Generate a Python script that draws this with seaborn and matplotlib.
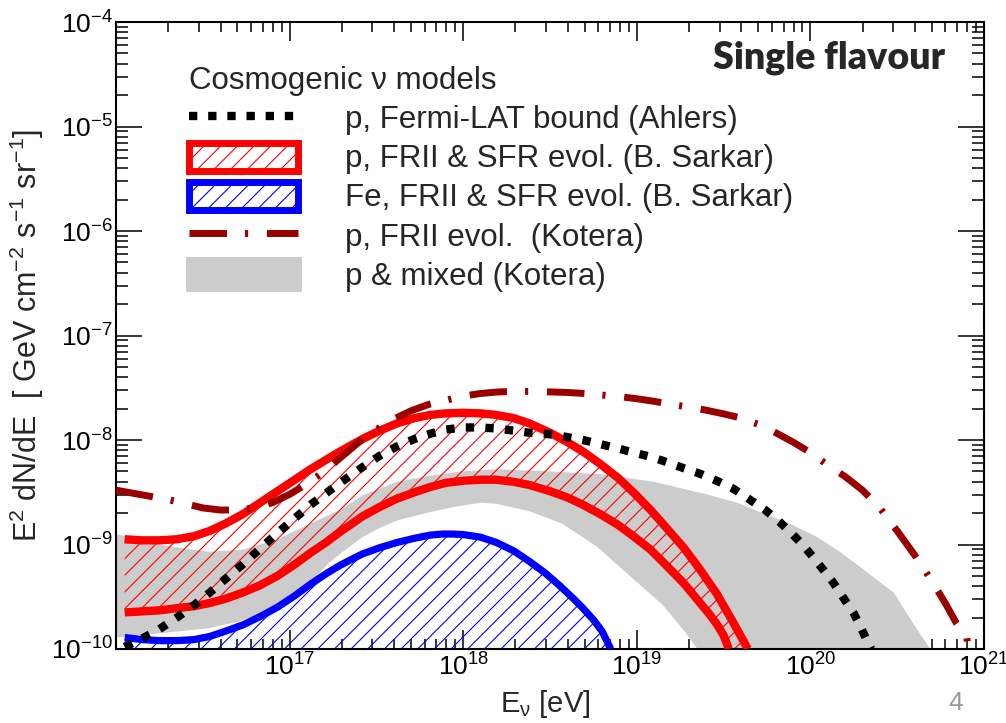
import numpy as np
import pandas as pd
import matplotlib
matplotlib.use("Agg")
import matplotlib.pyplot as plt
import seaborn as sns
from matplotlib.patches import Patch
from matplotlib.lines import Line2D

# Values, as log10(E / eV) and log10(E^2 dN/dE / GeV cm-2 s-1 sr-1)
fermi_log_e = [16.05, 16.15, 16.25, 16.35, 16.45, 16.54, 16.63, 16.73, 16.83, 16.93, 17.03,
               17.12, 17.21, 17.29, 17.36, 17.42, 17.52, 17.62, 17.72, 17.81, 17.90, 18.00,
               18.10, 18.19, 18.29, 18.38, 18.47, 18.56, 18.69, 18.79, 18.89, 18.98, 19.08,
               19.17, 19.27, 19.36, 19.46, 19.56, 19.65, 19.74, 19.82, 19.89, 19.96, 20.04,
               20.13, 20.19, 20.25, 20.29, 20.32, 20.35]
fermi_log_flux = [-9.98, -9.90, -9.81, -9.70, -9.58, -9.46, -9.33, -9.19, -9.04, -8.89, -8.75,
                  -8.62, -8.51, -8.41, -8.33, -8.26, -8.15, -8.06, -7.99, -7.94, -7.90, -7.88,
                  -7.88, -7.89, -7.91, -7.93, -7.94, -7.96, -8.00, -8.04, -8.08, -8.12, -8.16,
                  -8.21, -8.27, -8.32, -8.39, -8.47, -8.57, -8.67, -8.78, -8.89, -9.01, -9.17,
                  -9.36, -9.51, -9.66, -9.79, -9.90, -10.0]

p_hi_log_e = [16.05, 16.15, 16.25, 16.35, 16.45, 16.54, 16.63, 16.73, 16.83, 16.93, 17.03,
              17.12, 17.21, 17.29, 17.42, 17.52, 17.62, 17.72, 17.81, 17.90, 18.00, 18.10,
              18.19, 18.29, 18.38, 18.50, 18.60, 18.69, 18.79, 18.89, 18.98, 19.08, 19.17,
              19.27, 19.36, 19.46, 19.55, 19.64]
p_hi_log_flux = [-8.95, -8.96, -8.96, -8.95, -8.92, -8.87, -8.80, -8.71, -8.60, -8.49, -8.38,
                 -8.28, -8.19, -8.11, -7.99, -7.91, -7.84, -7.79, -7.76, -7.745, -7.74, -7.745,
                 -7.76, -7.79, -7.84, -7.93, -8.02, -8.11, -8.23, -8.36, -8.50, -8.67, -8.84,
                 -9.03, -9.23, -9.47, -9.73, -10.0]

p_lo_log_e = [16.05, 16.15, 16.25, 16.35, 16.45, 16.54, 16.63, 16.73, 16.83, 16.93, 17.03,
              17.12, 17.21, 17.29, 17.36, 17.42, 17.52, 17.62, 17.72, 17.81, 17.90, 18.00,
              18.10, 18.19, 18.29, 18.38, 18.50, 18.60, 18.69, 18.79, 18.89, 18.98, 19.08,
              19.17, 19.27, 19.36, 19.42, 19.46, 19.50, 19.53]
p_lo_log_flux = [-9.65, -9.64, -9.63, -9.61, -9.59, -9.56, -9.52, -9.46, -9.39, -9.30, -9.19,
                 -9.08, -8.98, -8.88, -8.80, -8.73, -8.64, -8.56, -8.50, -8.45, -8.41, -8.39,
                 -8.38, -8.38, -8.40, -8.43, -8.49, -8.55, -8.62, -8.71, -8.81, -8.92, -9.05,
                 -9.20, -9.37, -9.55, -9.67, -9.76, -9.87, -10.0]

fe_log_e = [16.05, 16.15, 16.25, 16.35, 16.45, 16.54, 16.63, 16.73, 16.83, 16.93, 17.03,
            17.12, 17.21, 17.29, 17.36, 17.42, 17.52, 17.62, 17.72, 17.81, 17.88, 17.94,
            18.00, 18.10, 18.19, 18.29, 18.38, 18.47, 18.56, 18.63, 18.69, 18.75, 18.80,
            18.85]
fe_log_flux = [-9.89, -9.91, -9.92, -9.92, -9.91, -9.88, -9.83, -9.77, -9.69, -9.60, -9.49,
               -9.38, -9.28, -9.20, -9.14, -9.09, -9.03, -8.98, -8.94, -8.91, -8.90, -8.90,
               -8.905, -8.93, -8.98, -9.06, -9.16, -9.27, -9.40, -9.51, -9.61, -9.72, -9.83,
               -10.0]

kotera_log_e = [16.00, 16.10, 16.20, 16.30, 16.40, 16.50, 16.60, 16.70, 16.80, 16.90, 17.00,
                17.10, 17.20, 17.30, 17.40, 17.50, 17.60, 17.70, 17.80, 17.90, 18.00, 18.10,
                18.20, 18.30, 18.40, 18.50, 18.60, 18.70, 18.80, 18.90, 19.00, 19.10, 19.20,
                19.30, 19.40, 19.50, 19.60, 19.70, 19.80, 19.90, 20.00, 20.10, 20.20, 20.30,
                20.40, 20.50, 20.60, 20.70, 20.78, 20.84, 20.90, 20.91]
kotera_log_flux = [-8.48, -8.51, -8.54, -8.57, -8.61, -8.65, -8.67, -8.67, -8.65, -8.60, -8.52,
                   -8.42, -8.30, -8.16, -8.02, -7.90, -7.80, -7.72, -7.66, -7.62, -7.58, -7.555,
                   -7.54, -7.535, -7.535, -7.54, -7.545, -7.555, -7.57, -7.585, -7.605, -7.63,
                   -7.66, -7.685, -7.715, -7.75, -7.79, -7.85, -7.93, -8.02, -8.12, -8.24,
                   -8.35, -8.48, -8.65, -8.87, -9.10, -9.35, -9.57, -9.75, -9.88, -10.0]

mixed_hi_log_e = [16.00, 16.12, 16.25, 16.40, 16.54, 16.73, 16.93, 17.12, 17.29, 17.42, 17.62,
                  17.81, 18.00, 18.20, 18.50, 18.80, 19.10, 19.40, 19.58, 19.71, 19.88, 20.04,
                  20.17, 20.29, 20.40, 20.48, 20.59, 20.69]
mixed_hi_log_flux = [-8.90, -8.95, -9.00, -9.04, -9.07, -9.05, -8.95, -8.80, -8.67, -8.53, -8.40,
                     -8.34, -8.30, -8.28, -8.30, -8.33, -8.40, -8.52, -8.60, -8.69, -8.80, -8.93,
                     -9.07, -9.22, -9.36, -9.46, -9.75, -10.0]

mixed_lo_log_e = [16.00, 16.25, 16.54, 16.70, 16.83, 16.95, 17.06, 17.15, 17.23, 17.33, 17.42,
                  17.52, 17.62, 17.81, 17.95, 18.10, 18.19, 18.38, 18.57, 18.77, 18.96, 19.15,
                  19.27, 19.35]
mixed_lo_log_flux = [-9.89, -9.85, -9.80, -9.74, -9.66, -9.56, -9.45, -9.31, -9.17, -9.04, -8.93,
                     -8.84, -8.77, -8.69, -8.64, -8.60, -8.61, -8.68, -8.80, -9.02, -9.30, -9.58,
                     -9.82, -10.0]

legend_labels = ["p, Fermi-LAT bound (Ahlers)",
                 "p, FRII & SFR evol. (B. Sarkar)",
                 "Fe, FRII & SFR evol. (B. Sarkar)",
                 "p, FRII evol.  (Kotera)",
                 "p & mixed (Kotera)"]

E_MIN, E_MAX = 1e16, 1e21
F_MIN, F_MAX = 1e-10, 1e-4

RED = "#ff0000"
BLUE = "#0000ff"
DARKRED = "#990000"
GREY = "#cccccc"


def to_lin(log_vals):
    return 10.0 ** np.asarray(log_vals)


def decade_label(val, pos):
    # the left-most decade carries no label in the original
    if val <= E_MIN * 1.01:
        return ""
    return r"$10^{%d}$" % int(round(np.log10(val)))


sns.set_theme(style="ticks")
plt.rcParams["font.family"] = ["Liberation Sans", "DejaVu Sans"]
plt.rcParams["mathtext.fontset"] = "custom"
plt.rcParams["mathtext.rm"] = "Liberation Sans"
plt.rcParams["mathtext.default"] = "regular"
plt.rcParams["hatch.linewidth"] = 0.8

fig = plt.figure(figsize=(10.06, 7.23), dpi=100)
ax = fig.add_axes([116 / 1006, 74 / 723, 868 / 1006, 627 / 723])
ax.set_xscale("log")
ax.set_yscale("log")

# grey band (p & mixed, Kotera)
band_e = to_lin(mixed_hi_log_e + mixed_lo_log_e[::-1])
band_f = to_lin(mixed_hi_log_flux + mixed_lo_log_flux[::-1])
ax.fill(band_e, band_f, color=GREY, lw=0, zorder=1)

# hatched proton band
red_e = to_lin(p_hi_log_e + p_lo_log_e[::-1])
red_f = to_lin(p_hi_log_flux + p_lo_log_flux[::-1])
ax.fill(red_e, red_f, facecolor="none", edgecolor=RED, hatch="//", lw=0, zorder=2)

# hatched iron region down to the axis
ax.fill_between(to_lin(fe_log_e), to_lin(fe_log_flux), F_MIN,
                facecolor="none", edgecolor=BLUE, hatch="//", lw=0, zorder=2)

curves = {
    "p_hi": (p_hi_log_e, p_hi_log_flux),
    "p_lo": (p_lo_log_e, p_lo_log_flux),
    "fe": (fe_log_e, fe_log_flux),
    "fermi": (fermi_log_e, fermi_log_flux),
    "kotera": (kotera_log_e, kotera_log_flux),
}
frames = {k: pd.DataFrame({"E": to_lin(v[0]), "F": to_lin(v[1])}) for k, v in curves.items()}

for key in ["p_hi", "p_lo"]:
    sns.lineplot(data=frames[key], x="E", y="F", ax=ax, color=RED, lw=6,
                 sort=False, estimator=None, solid_capstyle="butt",
                 solid_joinstyle="round", zorder=3)
sns.lineplot(data=frames["fe"], x="E", y="F", ax=ax, color=BLUE, lw=5.2,
             sort=False, estimator=None, solid_capstyle="butt",
             solid_joinstyle="round", zorder=3)
sns.lineplot(data=frames["fermi"], x="E", y="F", ax=ax, color="black", lw=6,
             linestyle=(0, (1, 1.35)), sort=False, estimator=None, zorder=4)
sns.lineplot(data=frames["kotera"], x="E", y="F", ax=ax, color=DARKRED, lw=5,
             linestyle=(0, (5.4, 2.6, 0.45, 2.7)), sort=False, estimator=None, zorder=5)

ax.set_xlim(E_MIN, E_MAX)
ax.set_ylim(F_MIN, F_MAX)

for side in ax.spines.values():
    side.set_linewidth(1.5)
    side.set_color("black")
ax.tick_params(which="both", direction="in", top=True, right=True, width=1.1,
               colors="black", labelsize=19)
ax.tick_params(axis="y", which="major", length=18.5, pad=2)
ax.tick_params(axis="y", which="minor", length=8.5)
ax.tick_params(axis="x", which="major", length=13.5, pad=3)
ax.tick_params(axis="x", which="minor", length=7)
ax.yaxis.set_major_locator(matplotlib.ticker.LogLocator(base=10, numticks=10))
ax.yaxis.set_minor_locator(matplotlib.ticker.LogLocator(base=10, subs=np.arange(2, 10), numticks=20))
ax.xaxis.set_minor_locator(matplotlib.ticker.LogLocator(base=10, subs=np.arange(2, 10), numticks=20))
ax.xaxis.set_major_formatter(matplotlib.ticker.FuncFormatter(decade_label))
ax.xaxis.set_minor_formatter(matplotlib.ticker.NullFormatter())
ax.yaxis.set_minor_formatter(matplotlib.ticker.NullFormatter())

ax.set_xlabel(r"E$_{\nu}$ [eV]", fontsize=21)
ax.xaxis.set_label_coords(0.495, -0.062)
ax.set_ylabel(r"E$^2$ dN/dE  [ GeV cm$^{-2}$ s$^{-1}$ sr$^{-1}$]", fontsize=22)
ax.yaxis.set_label_coords(-0.081, 0.5)

handles = [
    Line2D([], [], color="black", lw=6, linestyle=(0, (1, 1.3))),
    Patch(facecolor="white", edgecolor=RED, hatch="//", lw=5),
    Patch(facecolor="white", edgecolor=BLUE, hatch="//", lw=5),
    Line2D([], [], color=DARKRED, lw=5, linestyle=(0, (5.4, 2.6, 0.45, 2.7))),
    Patch(facecolor=GREY, edgecolor=GREY, lw=5, joinstyle="round"),
]
leg = ax.legend(handles, legend_labels, title="Cosmogenic \u03bd models", alignment="left",
                loc="upper left", bbox_to_anchor=(0.084, 0.930), frameon=False,
                fontsize=22.5, title_fontsize=22.5, handlelength=3.5, handleheight=1.0,
                handletextpad=1.5, labelspacing=0.24, borderpad=0, borderaxespad=0)

ax.text(0.955, 0.943, "Single flavour", transform=ax.transAxes, ha="right", va="center",
        fontsize=27, fontweight="heavy", family=["Lato", "DejaVu Sans"])

fig.text(956 / 1006, 1 - 703 / 723, "4", color="#9a9a9a", fontsize=19, ha="center", va="center")

fig.savefig("out.png", dpi=100)
